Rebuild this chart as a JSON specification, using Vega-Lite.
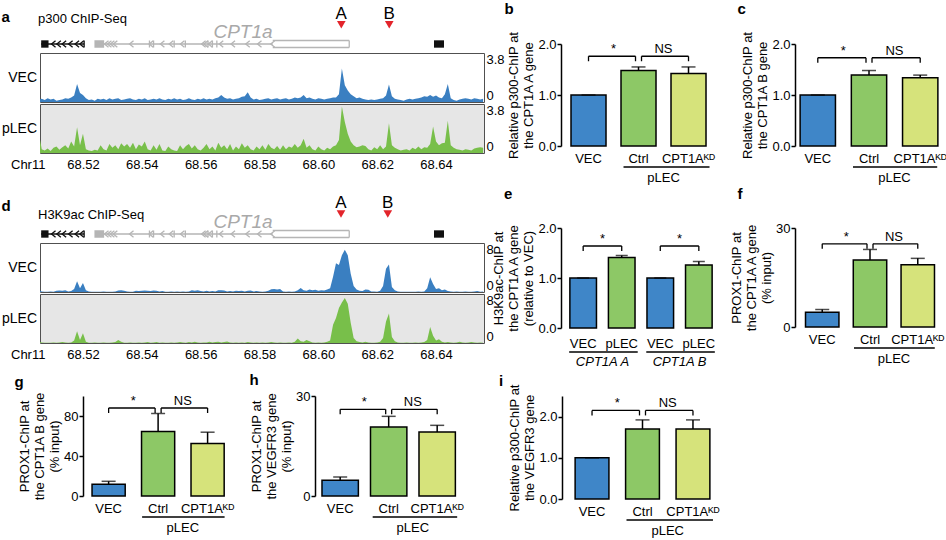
{
"$schema":"https://vega.github.io/schema/vega-lite/v6.json",
"background":"white",
"padding":{"left":1,"top":2,"right":0,"bottom":0},
"config":{
 "font":"Liberation Sans",
 "view":{"stroke":null},
 "title":{"fontSize":15,"fontWeight":"bold","anchor":"start","frame":"bounds","color":"black"},
 "axis":{"grid":false,"labelColor":"black","titleColor":"black","labelFontSize":13,"titleFontSize":13,"titleFontWeight":"normal","labelFont":"Liberation Sans","titleFont":"Liberation Sans"},
 "axisY":{"domainColor":"black","domainWidth":1.5,"tickColor":"black","tickWidth":1.5,"tickSize":4,"labelPadding":1,"titlePadding":2,"titleLineHeight":15},
 "axisX":{"domain":false,"ticks":false,"labelAngle":0,"labelPadding":6},
 "text":{"fontSize":13,"color":"black"},
 "rule":{"color":"black","strokeWidth":1.3},
 "tick":{"color":"black"}
},
"datasets":{
 "tr":[
{"x":68.505,"aV":0.2,"aP":1.55,"dV":0.3,"dP":0.2},
{"x":68.506,"aV":0.25,"aP":0.3,"dV":0.1,"dP":0.1},
{"x":68.507,"aV":0.15,"aP":0.2,"dV":0.05,"dP":0.05},
{"x":68.508,"aV":0.3,"aP":0.35,"dV":0.05,"dP":0.05},
{"x":68.509,"aV":0.2,"aP":0.15,"dV":0.1,"dP":0.05},
{"x":68.510,"aV":0.25,"aP":0.4,"dV":0.05,"dP":0.1},
{"x":68.511,"aV":0.1,"aP":0.5,"dV":0.2,"dP":0.05},
{"x":68.512,"aV":0.15,"aP":0.25,"dV":0.25,"dP":0.1},
{"x":68.513,"aV":0.2,"aP":0.45,"dV":0.2,"dP":0.15},
{"x":68.514,"aV":0.3,"aP":0.6,"dV":0.3,"dP":0.1},
{"x":68.515,"aV":0.25,"aP":0.35,"dV":0.1,"dP":0.05},
{"x":68.516,"aV":0.35,"aP":0.9,"dV":0.15,"dP":0.1},
{"x":68.517,"aV":0.5,"aP":0.5,"dV":0.5,"dP":0.4},
{"x":68.518,"aV":1.4,"aP":2.0,"dV":1.75,"dP":1.9},
{"x":68.519,"aV":0.7,"aP":0.6,"dV":0.6,"dP":0.5},
{"x":68.520,"aV":0.55,"aP":1.5,"dV":1.45,"dP":1.6},
{"x":68.521,"aV":0.3,"aP":0.3,"dV":0.3,"dP":0.2},
{"x":68.522,"aV":0.15,"aP":0.2,"dV":0.1,"dP":0.05},
{"x":68.523,"aV":0.2,"aP":0.15,"dV":0.05,"dP":0.05},
{"x":68.524,"aV":0.1,"aP":0.25,"dV":0.05,"dP":0.1},
{"x":68.525,"aV":0.25,"aP":0.2,"dV":0.05,"dP":0.05},
{"x":68.526,"aV":0.2,"aP":0.6,"dV":0.05,"dP":0.05},
{"x":68.527,"aV":0.25,"aP":0.3,"dV":0.1,"dP":0.1},
{"x":68.528,"aV":0.15,"aP":0.2,"dV":0.05,"dP":0.05},
{"x":68.529,"aV":0.3,"aP":0.7,"dV":0.05,"dP":0.05},
{"x":68.530,"aV":0.2,"aP":0.4,"dV":0.05,"dP":0.1},
{"x":68.531,"aV":0.25,"aP":0.6,"dV":0.1,"dP":0.15},
{"x":68.532,"aV":0.3,"aP":0.3,"dV":0.25,"dP":0.5},
{"x":68.533,"aV":0.15,"aP":0.75,"dV":0.3,"dP":0.2},
{"x":68.534,"aV":0.2,"aP":0.5,"dV":0.2,"dP":0.05},
{"x":68.535,"aV":0.25,"aP":0.7,"dV":0.1,"dP":0.05},
{"x":68.536,"aV":0.3,"aP":0.4,"dV":0.05,"dP":0.1},
{"x":68.537,"aV":0.2,"aP":0.8,"dV":0.05,"dP":0.05},
{"x":68.538,"aV":0.15,"aP":0.3,"dV":0.2,"dP":0.05},
{"x":68.539,"aV":0.25,"aP":0.65,"dV":0.15,"dP":0.1},
{"x":68.540,"aV":0.2,"aP":0.5,"dV":0.2,"dP":0.05},
{"x":68.541,"aV":0.3,"aP":0.9,"dV":0.25,"dP":0.1},
{"x":68.542,"aV":0.15,"aP":0.3,"dV":0.2,"dP":0.15},
{"x":68.543,"aV":0.2,"aP":0.2,"dV":0.15,"dP":0.05},
{"x":68.544,"aV":0.25,"aP":0.6,"dV":0.25,"dP":0.1},
{"x":68.545,"aV":0.2,"aP":0.25,"dV":0.2,"dP":0.15},
{"x":68.546,"aV":0.3,"aP":0.7,"dV":0.1,"dP":0.05},
{"x":68.547,"aV":0.2,"aP":0.2,"dV":0.15,"dP":0.1},
{"x":68.548,"aV":0.15,"aP":0.15,"dV":0.05,"dP":0.05},
{"x":68.549,"aV":0.25,"aP":0.5,"dV":0.05,"dP":0.05},
{"x":68.550,"aV":0.2,"aP":0.3,"dV":0.1,"dP":0.1},
{"x":68.551,"aV":0.3,"aP":0.2,"dV":0.05,"dP":0.05},
{"x":68.552,"aV":0.2,"aP":0.15,"dV":0.1,"dP":0.1},
{"x":68.553,"aV":0.25,"aP":0.6,"dV":0.05,"dP":0.15},
{"x":68.554,"aV":0.15,"aP":0.3,"dV":0.1,"dP":0.1},
{"x":68.555,"aV":0.2,"aP":0.55,"dV":0.05,"dP":0.05},
{"x":68.556,"aV":0.3,"aP":0.7,"dV":0.1,"dP":0.15},
{"x":68.557,"aV":0.2,"aP":0.35,"dV":0.3,"dP":0.1},
{"x":68.558,"aV":0.15,"aP":0.6,"dV":0.2,"dP":0.2},
{"x":68.559,"aV":0.25,"aP":0.3,"dV":0.3,"dP":0.1},
{"x":68.560,"aV":0.2,"aP":0.2,"dV":0.15,"dP":0.05},
{"x":68.561,"aV":0.3,"aP":0.4,"dV":0.1,"dP":0.1},
{"x":68.562,"aV":0.2,"aP":0.7,"dV":0.2,"dP":0.1},
{"x":68.563,"aV":0.25,"aP":0.3,"dV":0.1,"dP":0.2},
{"x":68.564,"aV":0.2,"aP":0.5,"dV":0.15,"dP":0.1},
{"x":68.565,"aV":0.3,"aP":0.2,"dV":0.1,"dP":0.15},
{"x":68.566,"aV":0.35,"aP":0.8,"dV":0.3,"dP":0.2},
{"x":68.567,"aV":0.55,"aP":0.4,"dV":0.3,"dP":0.1},
{"x":68.568,"aV":0.35,"aP":0.6,"dV":0.25,"dP":0.15},
{"x":68.569,"aV":0.25,"aP":0.3,"dV":0.1,"dP":0.25},
{"x":68.570,"aV":0.3,"aP":0.7,"dV":0.15,"dP":0.1},
{"x":68.571,"aV":0.2,"aP":0.2,"dV":0.1,"dP":0.05},
{"x":68.572,"aV":0.25,"aP":0.5,"dV":0.2,"dP":0.1},
{"x":68.573,"aV":0.3,"aP":0.3,"dV":0.15,"dP":0.05},
{"x":68.574,"aV":0.4,"aP":0.75,"dV":0.2,"dP":0.1},
{"x":68.575,"aV":0.45,"aP":0.4,"dV":0.1,"dP":0.05},
{"x":68.576,"aV":0.75,"aP":0.6,"dV":0.2,"dP":0.15},
{"x":68.577,"aV":0.35,"aP":0.3,"dV":0.25,"dP":0.1},
{"x":68.578,"aV":0.2,"aP":0.2,"dV":0.1,"dP":0.05},
{"x":68.579,"aV":0.25,"aP":0.5,"dV":0.15,"dP":0.1},
{"x":68.580,"aV":0.15,"aP":0.3,"dV":0.1,"dP":0.05},
{"x":68.581,"aV":0.2,"aP":0.6,"dV":0.05,"dP":0.1},
{"x":68.582,"aV":0.25,"aP":0.25,"dV":0.1,"dP":0.05},
{"x":68.583,"aV":0.3,"aP":0.7,"dV":0.2,"dP":0.1},
{"x":68.584,"aV":0.2,"aP":0.4,"dV":0.45,"dP":0.15},
{"x":68.585,"aV":0.25,"aP":0.3,"dV":0.5,"dP":0.1},
{"x":68.586,"aV":0.3,"aP":0.55,"dV":0.4,"dP":0.05},
{"x":68.587,"aV":0.2,"aP":0.25,"dV":0.5,"dP":0.1},
{"x":68.588,"aV":0.25,"aP":0.6,"dV":0.1,"dP":0.05},
{"x":68.589,"aV":0.3,"aP":0.3,"dV":0.05,"dP":0.05},
{"x":68.590,"aV":0.2,"aP":0.5,"dV":0.1,"dP":0.1},
{"x":68.591,"aV":0.25,"aP":0.4,"dV":0.05,"dP":0.05},
{"x":68.592,"aV":0.35,"aP":0.7,"dV":0.1,"dP":0.2},
{"x":68.593,"aV":0.3,"aP":0.4,"dV":0.3,"dP":0.75},
{"x":68.594,"aV":0.35,"aP":0.6,"dV":0.65,"dP":0.3},
{"x":68.595,"aV":0.55,"aP":1.1,"dV":0.3,"dP":0.2},
{"x":68.596,"aV":0.3,"aP":0.4,"dV":0.2,"dP":0.5},
{"x":68.597,"aV":0.35,"aP":0.6,"dV":0.4,"dP":0.3},
{"x":68.598,"aV":0.25,"aP":0.3,"dV":0.3,"dP":0.1},
{"x":68.599,"aV":0.2,"aP":0.2,"dV":0.35,"dP":0.05},
{"x":68.600,"aV":0.3,"aP":0.5,"dV":0.2,"dP":0.1},
{"x":68.601,"aV":0.25,"aP":0.3,"dV":0.3,"dP":0.05},
{"x":68.602,"aV":0.2,"aP":0.2,"dV":0.25,"dP":0.1},
{"x":68.603,"aV":0.25,"aP":0.4,"dV":0.4,"dP":0.2},
{"x":68.604,"aV":0.3,"aP":0.3,"dV":0.6,"dP":0.4},
{"x":68.605,"aV":0.35,"aP":0.5,"dV":2.5,"dP":3.0},
{"x":68.606,"aV":0.35,"aP":0.6,"dV":4.7,"dP":4.1},
{"x":68.607,"aV":0.6,"aP":1.0,"dV":4.4,"dP":5.7},
{"x":68.608,"aV":2.6,"aP":3.6,"dV":6.0,"dP":6.6},
{"x":68.609,"aV":1.3,"aP":2.4,"dV":6.9,"dP":7.35},
{"x":68.610,"aV":0.9,"aP":1.5,"dV":6.0,"dP":6.4},
{"x":68.611,"aV":0.6,"aP":0.9,"dV":3.0,"dP":3.3},
{"x":68.612,"aV":0.45,"aP":0.6,"dV":1.0,"dP":0.8},
{"x":68.613,"aV":0.3,"aP":0.45,"dV":0.4,"dP":0.3},
{"x":68.614,"aV":0.35,"aP":0.5,"dV":0.2,"dP":0.15},
{"x":68.615,"aV":0.25,"aP":0.6,"dV":0.15,"dP":0.1},
{"x":68.616,"aV":0.2,"aP":0.55,"dV":0.4,"dP":0.2},
{"x":68.617,"aV":0.15,"aP":0.3,"dV":0.35,"dP":0.1},
{"x":68.618,"aV":0.2,"aP":0.2,"dV":0.1,"dP":0.05},
{"x":68.619,"aV":0.15,"aP":0.45,"dV":0.1,"dP":0.05},
{"x":68.620,"aV":0.2,"aP":0.3,"dV":0.05,"dP":0.1},
{"x":68.621,"aV":0.25,"aP":0.6,"dV":0.2,"dP":0.2},
{"x":68.622,"aV":0.3,"aP":0.3,"dV":1.0,"dP":0.8},
{"x":68.623,"aV":0.5,"aP":0.5,"dV":3.8,"dP":3.5},
{"x":68.624,"aV":1.35,"aP":2.3,"dV":4.5,"dP":4.8},
{"x":68.625,"aV":0.45,"aP":0.6,"dV":0.8,"dP":1.0},
{"x":68.626,"aV":0.25,"aP":0.4,"dV":0.3,"dP":0.3},
{"x":68.627,"aV":0.2,"aP":0.3,"dV":0.1,"dP":0.1},
{"x":68.628,"aV":0.15,"aP":0.2,"dV":0.05,"dP":0.05},
{"x":68.629,"aV":0.1,"aP":0.25,"dV":0.05,"dP":0.05},
{"x":68.630,"aV":0.2,"aP":0.3,"dV":0.05,"dP":0.1},
{"x":68.631,"aV":0.25,"aP":0.2,"dV":0.05,"dP":0.05},
{"x":68.632,"aV":0.2,"aP":0.4,"dV":0.05,"dP":0.05},
{"x":68.633,"aV":0.25,"aP":0.3,"dV":0.05,"dP":0.1},
{"x":68.634,"aV":0.3,"aP":0.5,"dV":0.1,"dP":0.05},
{"x":68.635,"aV":0.35,"aP":0.3,"dV":0.05,"dP":0.1},
{"x":68.636,"aV":0.45,"aP":0.45,"dV":0.1,"dP":0.15},
{"x":68.637,"aV":0.4,"aP":0.4,"dV":0.6,"dP":0.5},
{"x":68.638,"aV":0.55,"aP":0.7,"dV":2.4,"dP":2.6},
{"x":68.639,"aV":0.4,"aP":2.05,"dV":1.3,"dP":1.2},
{"x":68.640,"aV":0.5,"aP":0.9,"dV":0.5,"dP":0.4},
{"x":68.641,"aV":0.35,"aP":0.6,"dV":0.6,"dP":0.6},
{"x":68.642,"aV":0.3,"aP":0.75,"dV":0.3,"dP":0.2},
{"x":68.643,"aV":0.6,"aP":0.8,"dV":0.4,"dP":0.1},
{"x":68.644,"aV":1.4,"aP":2.5,"dV":0.15,"dP":0.15},
{"x":68.645,"aV":0.3,"aP":0.6,"dV":0.1,"dP":0.1},
{"x":68.646,"aV":0.15,"aP":0.4,"dV":0.05,"dP":0.05},
{"x":68.647,"aV":0.1,"aP":0.3,"dV":0.1,"dP":0.1},
{"x":68.648,"aV":0.2,"aP":0.25,"dV":0.05,"dP":0.2},
{"x":68.649,"aV":0.25,"aP":0.2,"dV":0.05,"dP":0.1},
{"x":68.650,"aV":0.3,"aP":0.3,"dV":0.1,"dP":0.05},
{"x":68.651,"aV":0.25,"aP":0.25,"dV":0.05,"dP":0.1},
{"x":68.652,"aV":0.2,"aP":0.2,"dV":0.05,"dP":0.15},
{"x":68.653,"aV":0.3,"aP":0.35,"dV":0.1,"dP":0.1},
{"x":68.654,"aV":0.25,"aP":0.4,"dV":0.15,"dP":0.05},
{"x":68.655,"aV":0.2,"aP":0.45,"dV":0.05,"dP":0.1},
{"x":68.656,"aV":0.25,"aP":0.4,"dV":0.1,"dP":0.05}
 ],
 "genes":[
{"feat":"intron","gene":"other","start":68.5058,"end":68.5204},
{"feat":"exon","gene":"other","start":68.5058,"end":68.5083},
{"feat":"tick","gene":"other","start":68.5204},
{"feat":"chev","gene":"other","start":68.5100},
{"feat":"chev","gene":"other","start":68.5118},
{"feat":"chev","gene":"other","start":68.5136},
{"feat":"chev","gene":"other","start":68.5158},
{"feat":"chev","gene":"other","start":68.5180},
{"feat":"chev","gene":"other","start":68.5196},
{"feat":"exon","gene":"CPT1a","start":68.5239,"end":68.5272},
{"feat":"intron","gene":"CPT1a","start":68.5272,"end":68.5845},
{"feat":"chev","gene":"CPT1a","start":68.5280},
{"feat":"chev","gene":"CPT1a","start":68.5290},
{"feat":"chev","gene":"CPT1a","start":68.5300},
{"feat":"chev","gene":"CPT1a","start":68.5310},
{"feat":"chev","gene":"CPT1a","start":68.5365},
{"feat":"chev","gene":"CPT1a","start":68.5432},
{"feat":"chev","gene":"CPT1a","start":68.5470},
{"feat":"chev","gene":"CPT1a","start":68.5500},
{"feat":"chev","gene":"CPT1a","start":68.5538},
{"feat":"chev","gene":"CPT1a","start":68.5610},
{"feat":"chev","gene":"CPT1a","start":68.5618},
{"feat":"chev","gene":"CPT1a","start":68.5633},
{"feat":"chev","gene":"CPT1a","start":68.5670},
{"feat":"chev","gene":"CPT1a","start":68.5710},
{"feat":"chev","gene":"CPT1a","start":68.5760},
{"feat":"chev","gene":"CPT1a","start":68.5800},
{"feat":"chev","gene":"CPT1a","start":68.5845},
{"feat":"tick","gene":"CPT1a","start":68.5426},
{"feat":"tick","gene":"CPT1a","start":68.5440},
{"feat":"tick","gene":"CPT1a","start":68.5510},
{"feat":"tick","gene":"CPT1a","start":68.5548},
{"feat":"tick","gene":"CPT1a","start":68.5625},
{"feat":"tick","gene":"CPT1a","start":68.5640},
{"feat":"tick","gene":"CPT1a","start":68.5655},
{"feat":"box","gene":"CPT1a","start":68.5845,"end":68.6105},
{"feat":"tick","gene":"CPT1a","start":68.6105},
{"feat":"intron","gene":"other","start":68.6393,"end":68.6427},
{"feat":"exon","gene":"other","start":68.6393,"end":68.6427}
 ],
 "grp":[{"from":"Ctrl","to":"CPT1Aᴷᴰ","lab":"pLEC"}],
 "b":[{"g":"VEC","cond":"VEC","v":1.0,"hi":1.0},{"g":"Ctrl","cond":"Ctrl","v":1.48,"hi":1.55},{"g":"CPT1Aᴷᴰ","cond":"KD","v":1.42,"hi":1.55}],
 "b_br":[{"from":"VEC","to":"Ctrl","lab":"*","h":1.76},{"from":"Ctrl","to":"CPT1Aᴷᴰ","lab":"NS","h":1.76}],
 "c":[{"g":"VEC","cond":"VEC","v":1.0,"hi":1.0},{"g":"Ctrl","cond":"Ctrl","v":1.39,"hi":1.48},{"g":"CPT1Aᴷᴰ","cond":"KD","v":1.34,"hi":1.39}],
 "c_br":[{"from":"VEC","to":"Ctrl","lab":"*","h":1.73},{"from":"Ctrl","to":"CPT1Aᴷᴰ","lab":"NS","h":1.73}],
 "e":[{"g":"A_VEC","cond":"VEC","v":1.0,"hi":1.0},{"g":"A_pLEC","cond":"pLEC","v":1.41,"hi":1.45},{"g":"B_VEC","cond":"VEC","v":1.0,"hi":1.0},{"g":"B_pLEC","cond":"pLEC","v":1.26,"hi":1.33}],
 "e_br":[{"from":"A_VEC","to":"A_pLEC","lab":"*","h":1.64},{"from":"B_VEC","to":"B_pLEC","lab":"*","h":1.64}],
 "e_grp":[{"from":"A_VEC","to":"A_pLEC","lab":"CPT1A A"},{"from":"B_VEC","to":"B_pLEC","lab":"CPT1A B"}],
 "f":[{"g":"VEC","cond":"VEC","v":4.45,"hi":5.3},{"g":"Ctrl","cond":"Ctrl","v":20.3,"hi":23.5},{"g":"CPT1Aᴷᴰ","cond":"KD","v":18.9,"hi":20.8}],
 "f_br":[{"from":"VEC","to":"Ctrl","lab":"*","h":25.2},{"from":"Ctrl","to":"CPT1Aᴷᴰ","lab":"NS","h":25.2}],
 "g":[{"g":"VEC","cond":"VEC","v":11.7,"hi":14.7},{"g":"Ctrl","cond":"Ctrl","v":64.5,"hi":82.5},{"g":"CPT1Aᴷᴰ","cond":"KD","v":52.5,"hi":63.8}],
 "g_br":[{"from":"VEC","to":"Ctrl","lab":"*","h":88},{"from":"Ctrl","to":"CPT1Aᴷᴰ","lab":"NS","h":88}],
 "h":[{"g":"VEC","cond":"VEC","v":4.7,"hi":5.7},{"g":"Ctrl","cond":"Ctrl","v":20.7,"hi":23.9},{"g":"CPT1Aᴷᴰ","cond":"KD","v":19.2,"hi":21.2}],
 "h_br":[{"from":"VEC","to":"Ctrl","lab":"*","h":26},{"from":"Ctrl","to":"CPT1Aᴷᴰ","lab":"NS","h":26}],
 "i":[{"g":"VEC","cond":"VEC","v":1.0,"hi":1.0},{"g":"Ctrl","cond":"Ctrl","v":1.70,"hi":1.92},{"g":"CPT1Aᴷᴰ","cond":"KD","v":1.70,"hi":1.92}],
 "i_br":[{"from":"VEC","to":"Ctrl","lab":"*","h":2.15},{"from":"Ctrl","to":"CPT1Aᴷᴰ","lab":"NS","h":2.15}]
},
"spacing":4,
"vconcat":[
{"spacing":-13,"hconcat":[
 {"spacing":21,"vconcat":[
 {"title":{"text":"a","offset":-20},"spacing":0,"vconcat":[
  {"width":444,"height":8,"layer":[
   {"data":{"values":[{"t":"p300 ChIP-Seq"}]},"mark":{"type":"text","align":"left","baseline":"middle","fontSize":13,"dx":-2},
    "encoding":{"x":{"datum":68.5054,"type":"quantitative","scale":{"domain":[68.5054,68.6563],"nice":false,"zero":false},"axis":null},
     "y":{"datum":4.1,"type":"quantitative","scale":{"domain":[0,1],"nice":false,"zero":false},"axis":null},"text":{"field":"t"}}},
   {"data":{"values":[{"site":"A","pos":68.6078},{"site":"B","pos":68.6241}]},"layer":[
    {"mark":{"type":"text","fontSize":17,"baseline":"middle"},"encoding":{"x":{"field":"pos","type":"quantitative"},"y":{"datum":4.75},"text":{"field":"site"}}},
    {"mark":{"type":"point","shape":"triangle-down","filled":true,"color":"#e3242b","opacity":1,"size":75},"encoding":{"x":{"field":"pos","type":"quantitative"},"y":{"datum":3.4}}}]},
   {"data":{"values":[{"gene":"CPT1a","mid":68.5744}]},"mark":{"type":"text","fontSize":19,"fontStyle":"italic","color":"#a9a9a9","baseline":"middle"},
    "encoding":{"x":{"field":"mid","type":"quantitative"},"y":{"datum":2.5},"text":{"field":"gene"}}},
   {"data":{"name":"genes"},"layer":[
    {"transform":[{"filter":"datum.feat=='intron'"}],"mark":{"type":"rule","strokeWidth":1.3},"encoding":{"x":{"field":"start","type":"quantitative"},"x2":{"field":"end"},"y":{"datum":1},"color":{"field":"gene","type":"nominal","scale":{"domain":["other","CPT1a","VEC","Ctrl","KD","pLEC"],"range":["#111111","#b5b5b5","#3f86c8","#8dc866","#d6e37b","#8dc866"]},"legend":null}}},
    {"transform":[{"filter":"datum.feat=='box'"}],"mark":{"type":"rule","strokeWidth":1.3},"encoding":{"x":{"field":"start","type":"quantitative"},"x2":{"field":"end"},"y":{"datum":1.44},"color":{"field":"gene","type":"nominal","legend":null}}},
    {"transform":[{"filter":"datum.feat=='box'"}],"mark":{"type":"rule","strokeWidth":1.3},"encoding":{"x":{"field":"start","type":"quantitative"},"x2":{"field":"end"},"y":{"datum":0.56},"color":{"field":"gene","type":"nominal","legend":null}}},
    {"transform":[{"filter":"datum.feat=='exon'"}],"mark":{"type":"rect"},"encoding":{"x":{"field":"start","type":"quantitative"},"x2":{"field":"end"},"y":{"datum":0.54},"y2":{"datum":1.46},"color":{"field":"gene","type":"nominal","legend":null}}},
    {"transform":[{"filter":"datum.feat=='tick'"}],"mark":{"type":"rule","strokeWidth":1.3},"encoding":{"x":{"field":"start","type":"quantitative"},"y":{"datum":0.56},"y2":{"datum":1.44},"color":{"field":"gene","type":"nominal","legend":null}}},
    {"transform":[{"filter":"datum.feat=='chev'"}],"mark":{"type":"point","shape":"M0.6,-1L-0.6,0L0.6,1","filled":false,"size":45,"strokeWidth":1.3,"opacity":1},"encoding":{"x":{"field":"start","type":"quantitative"},"y":{"datum":1},"color":{"field":"gene","type":"nominal","legend":null}}}
   ]}
  ]},
  {"width":444,"height":49,"view":{"stroke":"#505050","strokeWidth":1},"layer":[
   {"data":{"name":"tr"},"mark":{"type":"area","color":"#3a7fc1","clip":true},
    "encoding":{"x":{"field":"x","type":"quantitative","scale":{"domain":[68.5054,68.6563],"nice":false,"zero":false},"axis":null},
     "y":{"field":"aV","type":"quantitative","scale":{"domain":[0,3.8],"nice":false},"axis":{"orient":"right","values":[0,3.8],"format":".1~f","ticks":false,"domain":false,"labelFlush":true,"title":null,"labelPadding":2}}}},
   {"data":{"values":[{"t":"VEC"}]},"mark":{"type":"text","align":"right","baseline":"middle","fontSize":14,"dx":-3},"encoding":{"x":{"datum":68.5054},"y":{"datum":1.9},"text":{"field":"t"}}}
  ]},
  {"width":444,"height":49,"view":{"stroke":"#505050","strokeWidth":1,"fill":"#e6e6e6"},"layer":[
   {"data":{"name":"tr"},"mark":{"type":"area","color":"#78bf4a","clip":true},
    "encoding":{"x":{"field":"x","type":"quantitative","scale":{"domain":[68.5054,68.6563],"nice":false,"zero":false},
      "axis":{"values":[68.52,68.54,68.56,68.58,68.6,68.62,68.64],"format":".2f","labelPadding":5,"title":null}},
     "y":{"field":"aP","type":"quantitative","scale":{"domain":[0,3.8],"nice":false},"axis":{"orient":"right","values":[0,3.8],"format":".1~f","ticks":false,"domain":false,"labelFlush":true,"title":null,"labelPadding":2}}}},
   {"data":{"values":[{"t":"pLEC"}]},"mark":{"type":"text","align":"right","baseline":"middle","fontSize":14,"dx":-3},"encoding":{"x":{"datum":68.5054},"y":{"datum":1.9},"text":{"field":"t"}}},
   {"data":{"values":[{"t":"Chr11"}]},"mark":{"type":"text","align":"left","baseline":"middle","fontSize":13,"dx":-29,"dy":11.5},"encoding":{"x":{"datum":68.5054},"y":{"datum":0},"text":{"field":"t"}}}
  ]}
 ]},
 {"title":{"text":"d","offset":-20},"spacing":0,"vconcat":[
  {"width":444,"height":8,"layer":[
   {"data":{"values":[{"t":"H3K9ac ChIP-Seq"}]},"mark":{"type":"text","align":"left","baseline":"middle","fontSize":13,"dx":-2},
    "encoding":{"x":{"datum":68.5054,"type":"quantitative","scale":{"domain":[68.5054,68.6563],"nice":false,"zero":false},"axis":null},
     "y":{"datum":3.4,"type":"quantitative","scale":{"domain":[0,1],"nice":false,"zero":false},"axis":null},"text":{"field":"t"}}},
   {"data":{"values":[{"site":"A","pos":68.6077},{"site":"B","pos":68.6236}]},"layer":[
    {"mark":{"type":"text","fontSize":17,"baseline":"middle"},"encoding":{"x":{"field":"pos","type":"quantitative"},"y":{"datum":4.9},"text":{"field":"site"}}},
    {"mark":{"type":"point","shape":"triangle-down","filled":true,"color":"#e3242b","opacity":1,"size":75},"encoding":{"x":{"field":"pos","type":"quantitative"},"y":{"datum":3.5}}}]},
   {"data":{"values":[{"gene":"CPT1a","mid":68.5744}]},"mark":{"type":"text","fontSize":19,"fontStyle":"italic","color":"#a9a9a9","baseline":"middle"},
    "encoding":{"x":{"field":"mid","type":"quantitative"},"y":{"datum":2.5},"text":{"field":"gene"}}},
   {"data":{"name":"genes"},"layer":[
    {"transform":[{"filter":"datum.feat=='intron'"}],"mark":{"type":"rule","strokeWidth":1.3},"encoding":{"x":{"field":"start","type":"quantitative"},"x2":{"field":"end"},"y":{"datum":1},"color":{"field":"gene","type":"nominal","scale":{"domain":["other","CPT1a","VEC","Ctrl","KD","pLEC"],"range":["#111111","#b5b5b5","#3f86c8","#8dc866","#d6e37b","#8dc866"]},"legend":null}}},
    {"transform":[{"filter":"datum.feat=='box'"}],"mark":{"type":"rule","strokeWidth":1.3},"encoding":{"x":{"field":"start","type":"quantitative"},"x2":{"field":"end"},"y":{"datum":1.44},"color":{"field":"gene","type":"nominal","legend":null}}},
    {"transform":[{"filter":"datum.feat=='box'"}],"mark":{"type":"rule","strokeWidth":1.3},"encoding":{"x":{"field":"start","type":"quantitative"},"x2":{"field":"end"},"y":{"datum":0.56},"color":{"field":"gene","type":"nominal","legend":null}}},
    {"transform":[{"filter":"datum.feat=='exon'"}],"mark":{"type":"rect"},"encoding":{"x":{"field":"start","type":"quantitative"},"x2":{"field":"end"},"y":{"datum":0.54},"y2":{"datum":1.46},"color":{"field":"gene","type":"nominal","legend":null}}},
    {"transform":[{"filter":"datum.feat=='tick'"}],"mark":{"type":"rule","strokeWidth":1.3},"encoding":{"x":{"field":"start","type":"quantitative"},"y":{"datum":0.56},"y2":{"datum":1.44},"color":{"field":"gene","type":"nominal","legend":null}}},
    {"transform":[{"filter":"datum.feat=='chev'"}],"mark":{"type":"point","shape":"M0.6,-1L-0.6,0L0.6,1","filled":false,"size":45,"strokeWidth":1.3,"opacity":1},"encoding":{"x":{"field":"start","type":"quantitative"},"y":{"datum":1},"color":{"field":"gene","type":"nominal","legend":null}}}
   ]}
  ]},
  {"width":444,"height":49,"view":{"stroke":"#505050","strokeWidth":1},"layer":[
   {"data":{"name":"tr"},"mark":{"type":"area","color":"#3a7fc1","clip":true},
    "encoding":{"x":{"field":"x","type":"quantitative","scale":{"domain":[68.5054,68.6563],"nice":false,"zero":false},"axis":null},
     "y":{"field":"dV","type":"quantitative","scale":{"domain":[0,8],"nice":false},"axis":{"orient":"right","values":[0,8],"format":".1~f","ticks":false,"domain":false,"labelFlush":true,"title":null,"labelPadding":2}}}},
   {"data":{"values":[{"t":"VEC"}]},"mark":{"type":"text","align":"right","baseline":"middle","fontSize":14,"dx":-3},"encoding":{"x":{"datum":68.5054},"y":{"datum":4},"text":{"field":"t"}}}
  ]},
  {"width":444,"height":49,"view":{"stroke":"#505050","strokeWidth":1,"fill":"#e6e6e6"},"layer":[
   {"data":{"name":"tr"},"mark":{"type":"area","color":"#78bf4a","clip":true},
    "encoding":{"x":{"field":"x","type":"quantitative","scale":{"domain":[68.5054,68.6563],"nice":false,"zero":false},
      "axis":{"values":[68.52,68.54,68.56,68.58,68.6,68.62,68.64],"format":".2f","labelPadding":5,"title":null}},
     "y":{"field":"dP","type":"quantitative","scale":{"domain":[0,8],"nice":false},"axis":{"orient":"right","values":[0,8],"format":".1~f","ticks":false,"domain":false,"labelFlush":true,"title":null,"labelPadding":2}}}},
   {"data":{"values":[{"t":"pLEC"}]},"mark":{"type":"text","align":"right","baseline":"middle","fontSize":14,"dx":-3},"encoding":{"x":{"datum":68.5054},"y":{"datum":4},"text":{"field":"t"}}},
   {"data":{"values":[{"t":"Chr11"}]},"mark":{"type":"text","align":"left","baseline":"middle","fontSize":13,"dx":-29,"dy":11.5},"encoding":{"x":{"datum":68.5054},"y":{"datum":0},"text":{"field":"t"}}}
  ]}
 ]}
 ]},
 {"spacing":2,"vconcat":[
 {"title":{"text":"b","offset":14,"dx":-3.5},"width":182,"height":102,"layer":[
  {"data":{"name":"b"},"mark":{"type":"bar","stroke":"black","strokeWidth":1.5},
   "encoding":{"x":{"field":"g","type":"nominal","scale":{"domain":["VEC","Ctrl","CPT1Aᴷᴰ"],"paddingInner":0.3,"paddingOuter":0.47,"align":0.213},"axis":{"title":null}},
    "y":{"field":"v","type":"quantitative","scale":{"domain":[0,2],"nice":false},"axis":{"values":[0,0.5,1,1.5,2],"format":".1f","title":["Relative p300-ChIP at","the CPT1A A gene"]}},
    "color":{"field":"cond","type":"nominal","scale":{"domain":["other","CPT1a","VEC","Ctrl","KD","pLEC"],"range":["#111111","#b5b5b5","#3f86c8","#8dc866","#d6e37b","#8dc866"]},"legend":null}}},
  {"data":{"name":"b"},"mark":{"type":"rule","strokeWidth":1.5},"encoding":{"x":{"field":"g","type":"nominal"},"y":{"field":"v","type":"quantitative"},"y2":{"field":"hi"}}},
  {"data":{"name":"b"},"mark":{"type":"tick","size":14,"thickness":1.5,"color":"black"},"encoding":{"x":{"field":"g","type":"nominal"},"y":{"field":"hi","type":"quantitative"}}},
  {"data":{"name":"b_br"},"layer":[
   {"transform":[{"filter":"datum.lab=='*'"}],"layer":[
    {"mark":{"type":"rule","x2Offset":-3},"encoding":{"x":{"field":"from","type":"nominal"},"x2":{"field":"to"},"y":{"field":"h","type":"quantitative"}}},
    {"mark":{"type":"rule","y2Offset":5},"encoding":{"x":{"field":"from","type":"nominal"},"y":{"field":"h","type":"quantitative"},"y2":{"field":"h"}}},
    {"mark":{"type":"rule","y2Offset":5,"xOffset":-3},"encoding":{"x":{"field":"to","type":"nominal"},"y":{"field":"h","type":"quantitative"},"y2":{"field":"h"}}}]},
   {"transform":[{"filter":"datum.lab=='NS'"}],"layer":[
    {"mark":{"type":"rule","xOffset":3},"encoding":{"x":{"field":"from","type":"nominal"},"x2":{"field":"to"},"y":{"field":"h","type":"quantitative"}}},
    {"mark":{"type":"rule","y2Offset":5,"xOffset":3},"encoding":{"x":{"field":"from","type":"nominal"},"y":{"field":"h","type":"quantitative"},"y2":{"field":"h"}}},
    {"mark":{"type":"rule","y2Offset":5},"encoding":{"x":{"field":"to","type":"nominal"},"y":{"field":"h","type":"quantitative"},"y2":{"field":"h"}}}]},
   {"mark":{"type":"text","dx":25,"dy":-3,"baseline":"alphabetic"},"encoding":{"x":{"field":"from","type":"nominal"},"y":{"field":"h","type":"quantitative"},"text":{"field":"lab"}}}]},
  {"data":{"name":"grp"},"layer":[
   {"mark":{"type":"rule","yOffset":21,"y2Offset":21,"xOffset":-15,"x2Offset":21},"encoding":{"x":{"field":"from","type":"nominal"},"x2":{"field":"to"},"y":{"datum":0},"y2":{"datum":0}}},
   {"mark":{"type":"text","dx":25,"dy":32,"baseline":"middle"},"encoding":{"x":{"field":"from","type":"nominal"},"y":{"datum":0},"text":{"field":"lab"}}}]}
 ]},
 {"title":{"text":"e","offset":20,"dx":11},"width":160,"height":100,"layer":[
  {"data":{"name":"e"},"mark":{"type":"bar","stroke":"black","strokeWidth":1.5},
   "encoding":{"x":{"field":"g","type":"nominal","scale":{"domain":["A_VEC","A_pLEC","B_VEC","B_pLEC"],"paddingInner":0.31,"paddingOuter":0.23},"axis":{"title":null,"labelPadding":9,"labelExpr":"split(datum.label,'_')[1]"}},
    "y":{"field":"v","type":"quantitative","scale":{"domain":[0,2],"nice":false},"axis":{"values":[0,0.5,1,1.5,2],"format":".1f","title":["H3K9ac-ChIP at","the CPT1A A gene","(relative to VEC)"]}},
    "color":{"field":"cond","type":"nominal","scale":{"domain":["other","CPT1a","VEC","Ctrl","KD","pLEC"],"range":["#111111","#b5b5b5","#3f86c8","#8dc866","#d6e37b","#8dc866"]},"legend":null}}},
  {"data":{"name":"e"},"mark":{"type":"rule","strokeWidth":1.5},"encoding":{"x":{"field":"g","type":"nominal"},"y":{"field":"v","type":"quantitative"},"y2":{"field":"hi"}}},
  {"data":{"name":"e"},"mark":{"type":"tick","size":12,"thickness":1.5,"color":"black"},"encoding":{"x":{"field":"g","type":"nominal"},"y":{"field":"hi","type":"quantitative"}}},
  {"data":{"name":"e_br"},"layer":[
    {"mark":{"type":"rule"},"encoding":{"x":{"field":"from","type":"nominal"},"x2":{"field":"to"},"y":{"field":"h","type":"quantitative"}}},
    {"mark":{"type":"rule","y2Offset":5},"encoding":{"x":{"field":"from","type":"nominal"},"y":{"field":"h","type":"quantitative"},"y2":{"field":"h"}}},
    {"mark":{"type":"rule","y2Offset":5},"encoding":{"x":{"field":"to","type":"nominal"},"y":{"field":"h","type":"quantitative"},"y2":{"field":"h"}}},
    {"mark":{"type":"text","dx":19.3,"dy":-3,"baseline":"alphabetic"},"encoding":{"x":{"field":"from","type":"nominal"},"y":{"field":"h","type":"quantitative"},"text":{"field":"lab"}}}]},
  {"data":{"name":"e_grp"},"layer":[
   {"mark":{"type":"rule","yOffset":24,"y2Offset":24,"xOffset":-14,"x2Offset":16},"encoding":{"x":{"field":"from","type":"nominal"},"x2":{"field":"to"},"y":{"datum":0},"y2":{"datum":0}}},
   {"mark":{"type":"text","dx":19.3,"dy":34,"baseline":"middle","fontStyle":"italic"},"encoding":{"x":{"field":"from","type":"nominal"},"y":{"datum":0},"text":{"field":"lab"}}}]}
 ]}
 ]},
 {"spacing":2,"vconcat":[
 {"title":{"text":"c","offset":14,"dx":-4.5},"width":148,"height":102,"layer":[
  {"data":{"name":"c"},"mark":{"type":"bar","stroke":"black","strokeWidth":1.5},
   "encoding":{"x":{"field":"g","type":"nominal","scale":{"domain":["VEC","Ctrl","CPT1Aᴷᴰ"],"paddingInner":0.31,"paddingOuter":0.1},"axis":{"title":null}},
    "y":{"field":"v","type":"quantitative","scale":{"domain":[0,2],"nice":false},"axis":{"values":[0,0.5,1,1.5,2],"format":".1f","title":["Relative p300-ChIP at","the CPT1A B gene"]}},
    "color":{"field":"cond","type":"nominal","scale":{"domain":["other","CPT1a","VEC","Ctrl","KD","pLEC"],"range":["#111111","#b5b5b5","#3f86c8","#8dc866","#d6e37b","#8dc866"]},"legend":null}}},
  {"data":{"name":"c"},"mark":{"type":"rule","strokeWidth":1.5},"encoding":{"x":{"field":"g","type":"nominal"},"y":{"field":"v","type":"quantitative"},"y2":{"field":"hi"}}},
  {"data":{"name":"c"},"mark":{"type":"tick","size":14,"thickness":1.5,"color":"black"},"encoding":{"x":{"field":"g","type":"nominal"},"y":{"field":"hi","type":"quantitative"}}},
  {"data":{"name":"c_br"},"layer":[
   {"transform":[{"filter":"datum.lab=='*'"}],"layer":[
    {"mark":{"type":"rule","x2Offset":-3},"encoding":{"x":{"field":"from","type":"nominal"},"x2":{"field":"to"},"y":{"field":"h","type":"quantitative"}}},
    {"mark":{"type":"rule","y2Offset":5},"encoding":{"x":{"field":"from","type":"nominal"},"y":{"field":"h","type":"quantitative"},"y2":{"field":"h"}}},
    {"mark":{"type":"rule","y2Offset":5,"xOffset":-3},"encoding":{"x":{"field":"to","type":"nominal"},"y":{"field":"h","type":"quantitative"},"y2":{"field":"h"}}}]},
   {"transform":[{"filter":"datum.lab=='NS'"}],"layer":[
    {"mark":{"type":"rule","xOffset":3},"encoding":{"x":{"field":"from","type":"nominal"},"x2":{"field":"to"},"y":{"field":"h","type":"quantitative"}}},
    {"mark":{"type":"rule","y2Offset":5,"xOffset":3},"encoding":{"x":{"field":"from","type":"nominal"},"y":{"field":"h","type":"quantitative"},"y2":{"field":"h"}}},
    {"mark":{"type":"rule","y2Offset":5},"encoding":{"x":{"field":"to","type":"nominal"},"y":{"field":"h","type":"quantitative"},"y2":{"field":"h"}}}]},
   {"mark":{"type":"text","dx":25.5,"dy":-3,"baseline":"alphabetic"},"encoding":{"x":{"field":"from","type":"nominal"},"y":{"field":"h","type":"quantitative"},"text":{"field":"lab"}}}]},
  {"data":{"name":"grp"},"layer":[
   {"mark":{"type":"rule","yOffset":21,"y2Offset":21,"xOffset":-16,"x2Offset":17},"encoding":{"x":{"field":"from","type":"nominal"},"x2":{"field":"to"},"y":{"datum":0},"y2":{"datum":0}}},
   {"mark":{"type":"text","dx":25.5,"dy":32,"baseline":"middle"},"encoding":{"x":{"field":"from","type":"nominal"},"y":{"datum":0},"text":{"field":"lab"}}}]}
 ]},
 {"title":{"text":"f","offset":20,"dx":7},"width":150,"height":99,"layer":[
  {"data":{"name":"f"},"mark":{"type":"bar","stroke":"black","strokeWidth":1.5},
   "encoding":{"x":{"field":"g","type":"nominal","scale":{"domain":["VEC","Ctrl","CPT1Aᴷᴰ"],"paddingInner":0.3,"paddingOuter":0.22},"axis":{"title":null}},
    "y":{"field":"v","type":"quantitative","scale":{"domain":[0,30],"nice":false},"axis":{"values":[0,10,20,30],"format":"d","title":["PROX1-ChIP at","the CPT1A A gene","(% input)"]}},
    "color":{"field":"cond","type":"nominal","scale":{"domain":["other","CPT1a","VEC","Ctrl","KD","pLEC"],"range":["#111111","#b5b5b5","#3f86c8","#8dc866","#d6e37b","#8dc866"]},"legend":null}}},
  {"data":{"name":"f"},"mark":{"type":"rule","strokeWidth":1.5},"encoding":{"x":{"field":"g","type":"nominal"},"y":{"field":"v","type":"quantitative"},"y2":{"field":"hi"}}},
  {"data":{"name":"f"},"mark":{"type":"tick","size":14,"thickness":1.5,"color":"black"},"encoding":{"x":{"field":"g","type":"nominal"},"y":{"field":"hi","type":"quantitative"}}},
  {"data":{"name":"f_br"},"layer":[
   {"transform":[{"filter":"datum.lab=='*'"}],"layer":[
    {"mark":{"type":"rule","x2Offset":-3},"encoding":{"x":{"field":"from","type":"nominal"},"x2":{"field":"to"},"y":{"field":"h","type":"quantitative"}}},
    {"mark":{"type":"rule","y2Offset":5},"encoding":{"x":{"field":"from","type":"nominal"},"y":{"field":"h","type":"quantitative"},"y2":{"field":"h"}}},
    {"mark":{"type":"rule","y2Offset":5,"xOffset":-3},"encoding":{"x":{"field":"to","type":"nominal"},"y":{"field":"h","type":"quantitative"},"y2":{"field":"h"}}}]},
   {"transform":[{"filter":"datum.lab=='NS'"}],"layer":[
    {"mark":{"type":"rule","xOffset":3},"encoding":{"x":{"field":"from","type":"nominal"},"x2":{"field":"to"},"y":{"field":"h","type":"quantitative"}}},
    {"mark":{"type":"rule","y2Offset":5,"xOffset":3},"encoding":{"x":{"field":"from","type":"nominal"},"y":{"field":"h","type":"quantitative"},"y2":{"field":"h"}}},
    {"mark":{"type":"rule","y2Offset":5},"encoding":{"x":{"field":"to","type":"nominal"},"y":{"field":"h","type":"quantitative"},"y2":{"field":"h"}}}]},
   {"mark":{"type":"text","dx":24,"dy":-3,"baseline":"alphabetic"},"encoding":{"x":{"field":"from","type":"nominal"},"y":{"field":"h","type":"quantitative"},"text":{"field":"lab"}}}]},
  {"data":{"name":"grp"},"layer":[
   {"mark":{"type":"rule","yOffset":21,"y2Offset":21,"xOffset":-16,"x2Offset":17},"encoding":{"x":{"field":"from","type":"nominal"},"x2":{"field":"to"},"y":{"datum":0},"y2":{"datum":0}}},
   {"mark":{"type":"text","dx":24,"dy":32,"baseline":"middle"},"encoding":{"x":{"field":"from","type":"nominal"},"y":{"datum":0},"text":{"field":"lab"}}}]}
 ]}
 ]}
]},
{"spacing":15,"hconcat":[
 {"title":{"text":"g","offset":2,"dx":-4},"width":193,"height":100,"layer":[
  {"data":{"name":"g"},"mark":{"type":"bar","stroke":"black","strokeWidth":1.5},
   "encoding":{"x":{"field":"g","type":"nominal","scale":{"domain":["VEC","Ctrl","CPT1Aᴷᴰ"],"paddingInner":0.33,"paddingOuter":0.615,"align":0.855},"axis":{"title":null}},
    "y":{"field":"v","type":"quantitative","scale":{"domain":[0,100],"nice":false},"axis":{"offset":-43,"values":[0,20,40,60,80,100],"format":"d","title":["PROX1-ChIP at","the CPT1A B gene","(% input)"]}},
    "color":{"field":"cond","type":"nominal","scale":{"domain":["other","CPT1a","VEC","Ctrl","KD","pLEC"],"range":["#111111","#b5b5b5","#3f86c8","#8dc866","#d6e37b","#8dc866"]},"legend":null}}},
  {"data":{"name":"g"},"mark":{"type":"rule","strokeWidth":1.5},"encoding":{"x":{"field":"g","type":"nominal"},"y":{"field":"v","type":"quantitative"},"y2":{"field":"hi"}}},
  {"data":{"name":"g"},"mark":{"type":"tick","size":14,"thickness":1.5,"color":"black"},"encoding":{"x":{"field":"g","type":"nominal"},"y":{"field":"hi","type":"quantitative"}}},
  {"data":{"name":"g_br"},"layer":[
   {"transform":[{"filter":"datum.lab=='*'"}],"layer":[
    {"mark":{"type":"rule","x2Offset":-3},"encoding":{"x":{"field":"from","type":"nominal"},"x2":{"field":"to"},"y":{"field":"h","type":"quantitative"}}},
    {"mark":{"type":"rule","y2Offset":5},"encoding":{"x":{"field":"from","type":"nominal"},"y":{"field":"h","type":"quantitative"},"y2":{"field":"h"}}},
    {"mark":{"type":"rule","y2Offset":5,"xOffset":-3},"encoding":{"x":{"field":"to","type":"nominal"},"y":{"field":"h","type":"quantitative"},"y2":{"field":"h"}}}]},
   {"transform":[{"filter":"datum.lab=='NS'"}],"layer":[
    {"mark":{"type":"rule","xOffset":3},"encoding":{"x":{"field":"from","type":"nominal"},"x2":{"field":"to"},"y":{"field":"h","type":"quantitative"}}},
    {"mark":{"type":"rule","y2Offset":5,"xOffset":3},"encoding":{"x":{"field":"from","type":"nominal"},"y":{"field":"h","type":"quantitative"},"y2":{"field":"h"}}},
    {"mark":{"type":"rule","y2Offset":5},"encoding":{"x":{"field":"to","type":"nominal"},"y":{"field":"h","type":"quantitative"},"y2":{"field":"h"}}}]},
   {"mark":{"type":"text","dx":24.7,"dy":-3,"baseline":"alphabetic"},"encoding":{"x":{"field":"from","type":"nominal"},"y":{"field":"h","type":"quantitative"},"text":{"field":"lab"}}}]},
  {"data":{"name":"grp"},"layer":[
   {"mark":{"type":"rule","yOffset":21,"y2Offset":21,"xOffset":-16,"x2Offset":17},"encoding":{"x":{"field":"from","type":"nominal"},"x2":{"field":"to"},"y":{"datum":0},"y2":{"datum":0}}},
   {"mark":{"type":"text","dx":24.7,"dy":32,"baseline":"middle"},"encoding":{"x":{"field":"from","type":"nominal"},"y":{"datum":0},"text":{"field":"lab"}}}]}
 ]},
 {"title":{"text":"h","offset":2,"dx":-1},"width":168,"height":100,"layer":[
  {"data":{"name":"h"},"mark":{"type":"bar","stroke":"black","strokeWidth":1.5},
   "encoding":{"x":{"field":"g","type":"nominal","scale":{"domain":["VEC","Ctrl","CPT1Aᴷᴰ"],"paddingInner":0.25,"paddingOuter":0.357,"align":0.202},"axis":{"title":null}},
    "y":{"field":"v","type":"quantitative","scale":{"domain":[0,30],"nice":false},"axis":{"values":[0,10,20,30],"format":"d","title":["PROX1-ChIP at","the VEGFR3 gene","(% input)"]}},
    "color":{"field":"cond","type":"nominal","scale":{"domain":["other","CPT1a","VEC","Ctrl","KD","pLEC"],"range":["#111111","#b5b5b5","#3f86c8","#8dc866","#d6e37b","#8dc866"]},"legend":null}}},
  {"data":{"name":"h"},"mark":{"type":"rule","strokeWidth":1.5},"encoding":{"x":{"field":"g","type":"nominal"},"y":{"field":"v","type":"quantitative"},"y2":{"field":"hi"}}},
  {"data":{"name":"h"},"mark":{"type":"tick","size":14,"thickness":1.5,"color":"black"},"encoding":{"x":{"field":"g","type":"nominal"},"y":{"field":"hi","type":"quantitative"}}},
  {"data":{"name":"h_br"},"layer":[
   {"transform":[{"filter":"datum.lab=='*'"}],"layer":[
    {"mark":{"type":"rule","x2Offset":-3},"encoding":{"x":{"field":"from","type":"nominal"},"x2":{"field":"to"},"y":{"field":"h","type":"quantitative"}}},
    {"mark":{"type":"rule","y2Offset":5},"encoding":{"x":{"field":"from","type":"nominal"},"y":{"field":"h","type":"quantitative"},"y2":{"field":"h"}}},
    {"mark":{"type":"rule","y2Offset":5,"xOffset":-3},"encoding":{"x":{"field":"to","type":"nominal"},"y":{"field":"h","type":"quantitative"},"y2":{"field":"h"}}}]},
   {"transform":[{"filter":"datum.lab=='NS'"}],"layer":[
    {"mark":{"type":"rule","xOffset":3},"encoding":{"x":{"field":"from","type":"nominal"},"x2":{"field":"to"},"y":{"field":"h","type":"quantitative"}}},
    {"mark":{"type":"rule","y2Offset":5,"xOffset":3},"encoding":{"x":{"field":"from","type":"nominal"},"y":{"field":"h","type":"quantitative"},"y2":{"field":"h"}}},
    {"mark":{"type":"rule","y2Offset":5},"encoding":{"x":{"field":"to","type":"nominal"},"y":{"field":"h","type":"quantitative"},"y2":{"field":"h"}}}]},
   {"mark":{"type":"text","dx":24.2,"dy":-3,"baseline":"alphabetic"},"encoding":{"x":{"field":"from","type":"nominal"},"y":{"field":"h","type":"quantitative"},"text":{"field":"lab"}}}]},
  {"data":{"name":"grp"},"layer":[
   {"mark":{"type":"rule","yOffset":21,"y2Offset":21,"xOffset":-16,"x2Offset":20},"encoding":{"x":{"field":"from","type":"nominal"},"x2":{"field":"to"},"y":{"datum":0},"y2":{"datum":0}}},
   {"mark":{"type":"text","dx":24.2,"dy":32,"baseline":"middle"},"encoding":{"x":{"field":"from","type":"nominal"},"y":{"datum":0},"text":{"field":"lab"}}}]}
 ]},
 {"title":{"text":"i","offset":-5,"dx":-10},"width":161,"height":103,"layer":[
  {"data":{"name":"i"},"mark":{"type":"bar","stroke":"black","strokeWidth":1.5},
   "encoding":{"x":{"field":"g","type":"nominal","scale":{"domain":["VEC","Ctrl","CPT1Aᴷᴰ"],"paddingInner":0.33,"paddingOuter":0.26},"axis":{"title":null}},
    "y":{"field":"v","type":"quantitative","scale":{"domain":[0,2.5],"nice":false},"axis":{"values":[0,0.5,1,1.5,2,2.5],"format":".1f","title":["Relative p300-ChIP at","the VEGFR3 gene"]}},
    "color":{"field":"cond","type":"nominal","scale":{"domain":["other","CPT1a","VEC","Ctrl","KD","pLEC"],"range":["#111111","#b5b5b5","#3f86c8","#8dc866","#d6e37b","#8dc866"]},"legend":null}}},
  {"data":{"name":"i"},"mark":{"type":"rule","strokeWidth":1.5},"encoding":{"x":{"field":"g","type":"nominal"},"y":{"field":"v","type":"quantitative"},"y2":{"field":"hi"}}},
  {"data":{"name":"i"},"mark":{"type":"tick","size":14,"thickness":1.5,"color":"black"},"encoding":{"x":{"field":"g","type":"nominal"},"y":{"field":"hi","type":"quantitative"}}},
  {"data":{"name":"i_br"},"layer":[
   {"transform":[{"filter":"datum.lab=='*'"}],"layer":[
    {"mark":{"type":"rule","x2Offset":-3},"encoding":{"x":{"field":"from","type":"nominal"},"x2":{"field":"to"},"y":{"field":"h","type":"quantitative"}}},
    {"mark":{"type":"rule","y2Offset":5},"encoding":{"x":{"field":"from","type":"nominal"},"y":{"field":"h","type":"quantitative"},"y2":{"field":"h"}}},
    {"mark":{"type":"rule","y2Offset":5,"xOffset":-3},"encoding":{"x":{"field":"to","type":"nominal"},"y":{"field":"h","type":"quantitative"},"y2":{"field":"h"}}}]},
   {"transform":[{"filter":"datum.lab=='NS'"}],"layer":[
    {"mark":{"type":"rule","xOffset":3},"encoding":{"x":{"field":"from","type":"nominal"},"x2":{"field":"to"},"y":{"field":"h","type":"quantitative"}}},
    {"mark":{"type":"rule","y2Offset":5,"xOffset":3},"encoding":{"x":{"field":"from","type":"nominal"},"y":{"field":"h","type":"quantitative"},"y2":{"field":"h"}}},
    {"mark":{"type":"rule","y2Offset":5},"encoding":{"x":{"field":"to","type":"nominal"},"y":{"field":"h","type":"quantitative"},"y2":{"field":"h"}}}]},
   {"mark":{"type":"text","dx":25.2,"dy":-3,"baseline":"alphabetic"},"encoding":{"x":{"field":"from","type":"nominal"},"y":{"field":"h","type":"quantitative"},"text":{"field":"lab"}}}]},
  {"data":{"name":"grp"},"layer":[
   {"mark":{"type":"rule","yOffset":21,"y2Offset":21,"xOffset":-16,"x2Offset":20},"encoding":{"x":{"field":"from","type":"nominal"},"x2":{"field":"to"},"y":{"datum":0},"y2":{"datum":0}}},
   {"mark":{"type":"text","dx":25.2,"dy":32,"baseline":"middle"},"encoding":{"x":{"field":"from","type":"nominal"},"y":{"datum":0},"text":{"field":"lab"}}}]}
 ]}
]}
]
}
